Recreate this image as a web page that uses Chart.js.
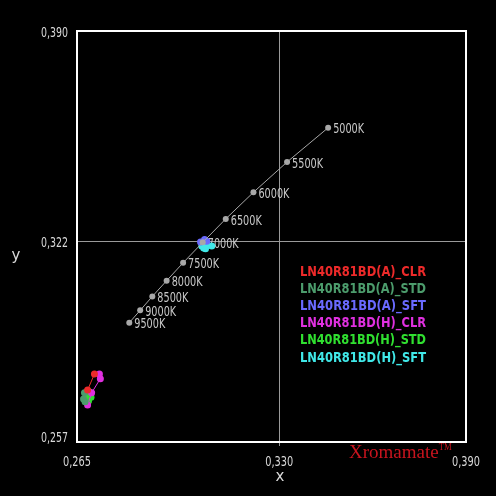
<!DOCTYPE html>
<html>
<head>
<meta charset="utf-8">
<script src="https://cdn.jsdelivr.net/npm/chart.js@4.4.1/dist/chart.umd.min.js"></script>
<style>
  html, body { margin: 0; padding: 0; background: #000; }
  canvas { display: block; }
</style>
</head>
<body>
<canvas id="cie-chart" width="496" height="496"></canvas>
<script>
// daylight locus (CIE x, y)
const cctLabels = ['5000K', '5500K', '6000K', '6500K', '7000K', '7500K', '8000K', '8500K', '9000K', '9500K'];
const locusX = [0.3457, 0.3325, 0.3217, 0.3128, 0.3054, 0.2991, 0.2938, 0.2892, 0.2853, 0.2818];
const locusY = [0.3587, 0.3476, 0.3378, 0.3292, 0.3216, 0.3150, 0.3092, 0.3041, 0.2996, 0.2956];

// measured panels
const seriesNames = ['LN40R81BD(A)_CLR', 'LN40R81BD(A)_STD', 'LN40R81BD(A)_SFT', 'LN40R81BD(H)_CLR', 'LN40R81BD(H)_STD', 'LN40R81BD(H)_SFT'];
const aClrX = [0.2706, 0.2684];
const aClrY = [0.2790, 0.2738];
const aStdX = [0.2674, 0.2671, 0.2676];
const aStdY = [0.2729, 0.2709, 0.2700];
const aSftX = [0.3047, 0.3060, 0.3067];
const aSftY = [0.3217, 0.3225, 0.3220];
const hClrX = [0.2722, 0.2725, 0.2697, 0.2684];
const hClrY = [0.2790, 0.2775, 0.2729, 0.2690];
const hStdX = [0.2690, 0.2695, 0.2687, 0.2683];
const hStdY = [0.2732, 0.2715, 0.2703, 0.2712];
const hSftX = [0.3051, 0.3070, 0.3083, 0.3063, 0.3057];
const hSftY = [0.3204, 0.3207, 0.3204, 0.3195, 0.3198];

const xTicks = [0.265, 0.330, 0.390];
const yTicks = [0.257, 0.322, 0.390];

const colors = ['#ee2a2a', '#4c9c6c', '#6a6aff', '#e030e0', '#30e030', '#40e8e8'];

const toPoints = (xs, ys) => xs.map((x, i) => ({ x: x, y: ys[i] }));
const fmt = v => v.toFixed(3).replace('.', ',');
const sans = "'DejaVu Sans', sans-serif";

const samples = [
  toPoints(aClrX, aClrY),
  toPoints(aStdX, aStdY),
  toPoints(aSftX, aSftY),
  toPoints(hClrX, hClrY),
  toPoints(hStdX, hStdY),
  toPoints(hSftX, hSftY)
];

const sampleSets = samples.map((pts, i) => ({
  label: seriesNames[i],
  data: pts,
  showLine: true,
  borderColor: colors[i],
  backgroundColor: colors[i],
  borderWidth: 1,
  pointRadius: 3.5,
  pointBorderWidth: 0
}));

// frame, tick labels, locus labels, axis names, legend, logo
const overlay = {
  id: 'overlay',
  beforeDatasetsDraw(chart) {
    const { ctx, chartArea: a, scales } = chart;
    ctx.save();
    ctx.strokeStyle = '#ffffff';
    ctx.lineWidth = 2;
    ctx.strokeRect(a.left, a.top, a.right - a.left, a.bottom - a.top);

    ctx.font = '14px ' + sans;
    ctx.fillStyle = '#c8c8c8';
    ctx.textBaseline = 'middle';
    ctx.textAlign = 'left';
    cctLabels.forEach((t, i) => {
      const px = scales.x.getPixelForValue(locusX[i]);
      const py = scales.y.getPixelForValue(locusY[i]);
      ctx.fillText(t, px + 5, py + 2, 31);
    });

    // tick labels
    ctx.fillStyle = '#d8d8d8';
    ctx.textAlign = 'right';
    scales.y.ticks.forEach(t => {
      const py = Math.min(Math.max(scales.y.getPixelForValue(t.value) + 2, a.top + 2), a.bottom - 4);
      ctx.fillText(fmt(t.value), a.left - 9, py, 27);
    });
    ctx.textAlign = 'center';
    scales.x.ticks.forEach(t => {
      const px = scales.x.getPixelForValue(t.value);
      ctx.fillText(fmt(t.value), px, a.bottom + 20, 28);
    });
    ctx.restore();
  },
  afterDraw(chart) {
    const { ctx } = chart;
    ctx.save();
    ctx.fillStyle = '#d8d8d8';
    ctx.font = '15px ' + sans;
    ctx.textAlign = 'center';
    ctx.textBaseline = 'middle';
    ctx.fillText('x', 280, 477);
    ctx.fillText('y', 16, 256);

    ctx.textAlign = 'left';
    ctx.font = "bold 14px 'DejaVu Sans Condensed', 'DejaVu Sans', sans-serif";
    seriesNames.forEach((name, i) => {
      ctx.fillStyle = colors[i];
      ctx.fillText(name, 300, 272 + i * 17.2, 126);
    });

    ctx.font = "19px 'Liberation Serif', 'DejaVu Serif', serif";
    ctx.fillStyle = '#c8141e';
    ctx.textBaseline = 'alphabetic';
    const w = Math.min(ctx.measureText('Xromamate').width, 93);
    ctx.fillText('Xromamate', 349, 458, 93);
    ctx.font = "10px 'Liberation Serif', serif";
    ctx.fillText('TM', 349 + w, 450, 13);
    ctx.restore();
  }
};

new Chart(document.getElementById('cie-chart'), {
  type: 'scatter',
  data: {
    datasets: [
      {
        label: 'locus',
        data: toPoints(locusX, locusY),
        showLine: true,
        borderColor: '#a8a8a8',
        backgroundColor: '#a8a8a8',
        borderWidth: 1,
        pointRadius: 3,
        pointBorderWidth: 0
      },
      ...sampleSets
    ]
  },
  options: {
    responsive: false,
    animation: false,
    devicePixelRatio: 1,
    layout: { padding: { top: 31, right: 30, left: 0, bottom: 0 } },
    plugins: {
      legend: { display: false },
      tooltip: { enabled: false }
    },
    scales: {
      x: {
        type: 'linear',
        min: 0.265,
        max: 0.390,
        afterBuildTicks: s => { s.ticks = xTicks.map(v => ({ value: v })); },
        afterFit: s => { s.height = 54; },
        border: { display: false },
        grid: {
          color: c => (c.tick && c.tick.value === 0.330) ? '#9a9a9a' : 'rgba(0,0,0,0)',
          lineWidth: 1,
          tickLength: 4
        },
        ticks: { display: false }
      },
      y: {
        type: 'linear',
        min: 0.257,
        max: 0.390,
        afterBuildTicks: s => { s.ticks = yTicks.map(v => ({ value: v })); },
        afterFit: s => { s.width = 77; },
        border: { display: false },
        grid: {
          color: c => (c.tick && c.tick.value === 0.322) ? '#9a9a9a' : 'rgba(0,0,0,0)',
          lineWidth: 1,
          drawTicks: false
        },
        ticks: { display: false }
      }
    }
  },
  plugins: [overlay]
});
</script>
</body>
</html>
